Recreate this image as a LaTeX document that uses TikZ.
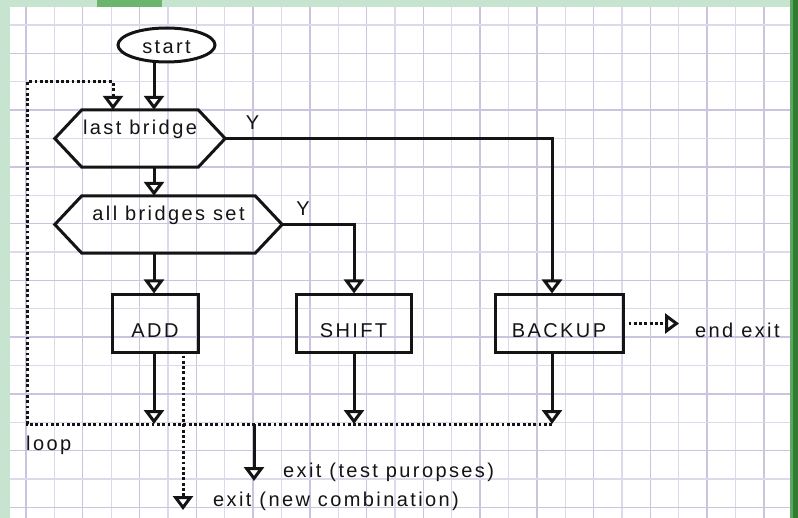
\documentclass[tikz,border=0pt]{standalone}
\usepackage{fontspec}
\setmainfont{Liberation Sans}[LetterSpace=12]
\usetikzlibrary{arrows.meta,shapes.geometric}
\definecolor{paneGreen}{RGB}{198,228,208}
\definecolor{tabGreen}{RGB}{107,181,111}
\definecolor{edgeGreen}{RGB}{46,125,50}
\definecolor{edgeMid}{RGB}{95,165,100}
\definecolor{gridMain}{RGB}{204,195,223}
\definecolor{gridFine}{RGB}{222,217,234}
\definecolor{ink}{RGB}{20,20,20}

\begin{document}
\begin{tikzpicture}[x=1bp,y=-1bp,
  every node/.style={font=\fontsize{20bp}{24bp}\selectfont, inner sep=0pt, text=ink},
  ln/.style={line width=3bp, ink},
  dots/.style={line width=3bp, ink, dash pattern=on 2.8bp off 2.5bp},
  tip/.style={-{Triangle[fill=white,length=14bp,width=20bp,line join=miter]}},
  box/.style={ln, draw, rectangle, minimum width=#1, minimum height=57bp,
    text height=27bp, text depth=0pt},
  hexnode/.style={minimum width=#1, minimum height=57bp,
    text height=5bp, text depth=12bp},
  lbl/.style={anchor=base west}]

\useasboundingbox (0,0) rectangle (798,518);

% window frame
\fill[white] (0,0) rectangle (798,518);
\fill[paneGreen] (0,0) rectangle (10,518);
\fill[paneGreen] (0,0) rectangle (790,7);
\fill[tabGreen] (97,0) rectangle (162,7);
\fill[edgeMid] (790,0) rectangle (793,518);
\fill[edgeGreen] (793,0) rectangle (798,518);

% squared paper
\begin{scope}
  \clip (10,7) rectangle (790,518);
  \foreach \k in {0,...,27}{
    \pgfmathtruncatemacro{\odd}{mod(\k,2)}
    \ifnum\odd=0
      \draw[gridMain, line width=1.4bp] ({26+28.38*\k},7) -- ({26+28.38*\k},518);
    \else
      \draw[gridFine, line width=1.2bp] ({26+28.38*\k},7) -- ({26+28.38*\k},518);
    \fi
  }
  \foreach \k in {0,...,17}{
    \pgfmathtruncatemacro{\odd}{mod(\k,2)}
    \ifnum\odd=1
      \draw[gridMain, line width=1.4bp] (10,{25+28.38*\k}) -- (790,{25+28.38*\k});
    \else
      \draw[gridFine, line width=1.2bp] (10,{25+28.38*\k}) -- (790,{25+28.38*\k});
    \fi
  }
\end{scope}

% column and row guides
\coordinate (colA) at (154,0);
\coordinate (colB) at (354,0);
\coordinate (colC) at (552,0);
\coordinate (colN) at (183,0);
\coordinate (colT) at (254,0);
\coordinate (colL) at (27,0);
\coordinate (colF) at (113,0);
\coordinate (loopY) at (0,424);
\coordinate (topY) at (0,82);
\coordinate (testY) at (0,481);
\coordinate (newY) at (0,510);
\coordinate (endtip) at (679,323.5);

% flowchart nodes
\node[ellipse, ln, draw, fill=white, minimum width=97bp, minimum height=34bp,
  text height=16.6bp, text depth=0pt] (start) at (166.5,45) {start};

\node[hexnode=170bp] (lastb) at (140,138.5) {last bridge};
\draw[ln] ([xshift=27bp]lastb.north west) -- ([xshift=-27bp]lastb.north east)
  -- (lastb.east) -- ([xshift=-27bp]lastb.south east)
  -- ([xshift=27bp]lastb.south west) -- (lastb.west) -- cycle;

\node[hexnode=227bp] (allb) at (168.5,224.5) {all bridges set};
\draw[ln] ([xshift=27bp]allb.north west) -- ([xshift=-27bp]allb.north east)
  -- (allb.east) -- ([xshift=-27bp]allb.south east)
  -- ([xshift=27bp]allb.south west) -- (allb.west) -- cycle;

\node[box=86bp] (add) at (155,323.5) {ADD};
\node[box=115bp] (shift) at (353.5,323.5) {SHIFT};
\node[box=128bp] (backup) at (559,323.5) {BACKUP};

% dotted loop back to the top
\draw[dots, tip] (colC |- loopY) -- (colL |- loopY) |- (colF |- topY)
  -- (lastb.north -| colF);

% main flow
\draw[ln, tip] (start.south -| colA) -- (lastb.north -| colA);
\draw[ln, tip] (lastb.south -| colA) -- (allb.north -| colA);
\draw[ln, tip] (allb.south -| colA) -- (add.north -| colA);
\draw[ln, tip] (lastb.east) -| (backup.north -| colC);
\draw[ln, tip] (allb.east) -| (shift.north -| colB);
\draw[ln, tip] (add.south -| colA) -- (colA |- loopY);
\draw[ln, tip] (shift.south -| colB) -- (colB |- loopY);
\draw[ln, tip] (backup.south -| colC) -- (colC |- loopY);

% exits
\draw[ln, tip] (colT |- loopY) -- (colT |- testY);
\draw[dots, tip] ([yshift=-2bp]add.south -| colN) -- (colN |- newY);
\draw[dots, tip] ([xshift=4bp]backup.east) -- (endtip);

% labels
\node[anchor=base] (ylast) at (252.5,130) {Y};
\node[anchor=base] (yall) at (303,216) {Y};
\node[lbl] (endlbl) at (695,337) {end exit};
\node[lbl] (looplbl) at (26,450) {loop};
\node[lbl] (testlbl) at (283,477.7) {exit (test puropses)};
\node[lbl] (newlbl) at (213,506.7) {exit (new combination)};

\end{tikzpicture}
\end{document}
